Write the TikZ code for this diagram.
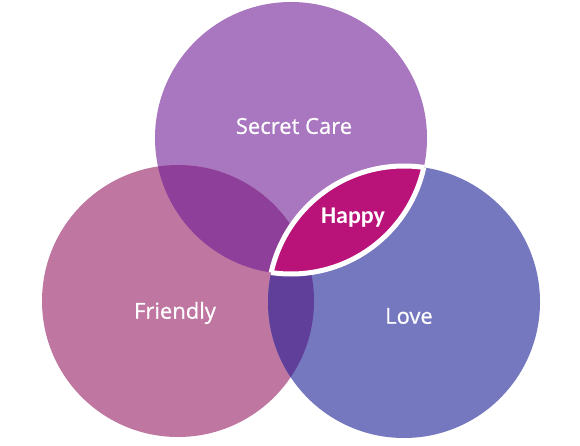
\documentclass[tikz,border=0pt]{standalone}
\usepackage{fontspec}
\setmainfont{Open Sans}
\newfontfamily\lblfont[FakeBold=0.6]{Open Sans}
\newfontfamily\happyfont{Carlito}
\definecolor{topc}{HTML}{A877C0}
\definecolor{leftc}{HTML}{BF77A2}
\definecolor{rightc}{HTML}{7578BE}
\definecolor{tlc}{HTML}{8E3F9A}
\definecolor{lrc}{HTML}{5F3F9A}
\definecolor{happyc}{HTML}{B9137A}
\tikzset{lbl/.style={text=white,font=\lblfont\fontsize{22}{25}\selectfont,inner sep=0pt}}
\begin{document}
\begin{tikzpicture}[x=1pt,y=-1pt]
\useasboundingbox (0,0) rectangle (580,446);
\coordinate (T) at (291,138);
\coordinate (L) at (178,301);
\coordinate (R) at (404,302);
\def\rad{136}
\fill[topc] (T) circle (\rad);
\fill[leftc] (L) circle (\rad);
\fill[rightc] (R) circle (\rad);
\begin{scope}
  \clip (T) circle (\rad);
  \fill[tlc] (L) circle (\rad);
\end{scope}
\begin{scope}
  \clip (L) circle (\rad);
  \fill[lrc] (R) circle (\rad);
\end{scope}
% shadow of lens
\begin{scope}[shift={(2.5,2.5)}]
  \clip (T) circle (\rad);
  \fill[black,opacity=0.25] (R) circle (\rad);
\end{scope}
% lens
\begin{scope}
  \clip (T) circle (\rad);
  \fill[happyc] (R) circle (\rad);
  \draw[white,line width=5] (R) circle (\rad);
\end{scope}
\begin{scope}
  \clip (R) circle (\rad);
  \draw[white,line width=5] (T) circle (\rad);
\end{scope}
\node[lbl] (sc) at (294,126) {Secret Care};
\node[lbl] (fr) at (175,313) {Friendly};
\node[lbl] (lv) at (409,316) {Love};
\node[lbl,font=\happyfont\bfseries\fontsize{24}{27}\selectfont] (hp) at (353,218) {Happy};
\end{tikzpicture}
\end{document}
